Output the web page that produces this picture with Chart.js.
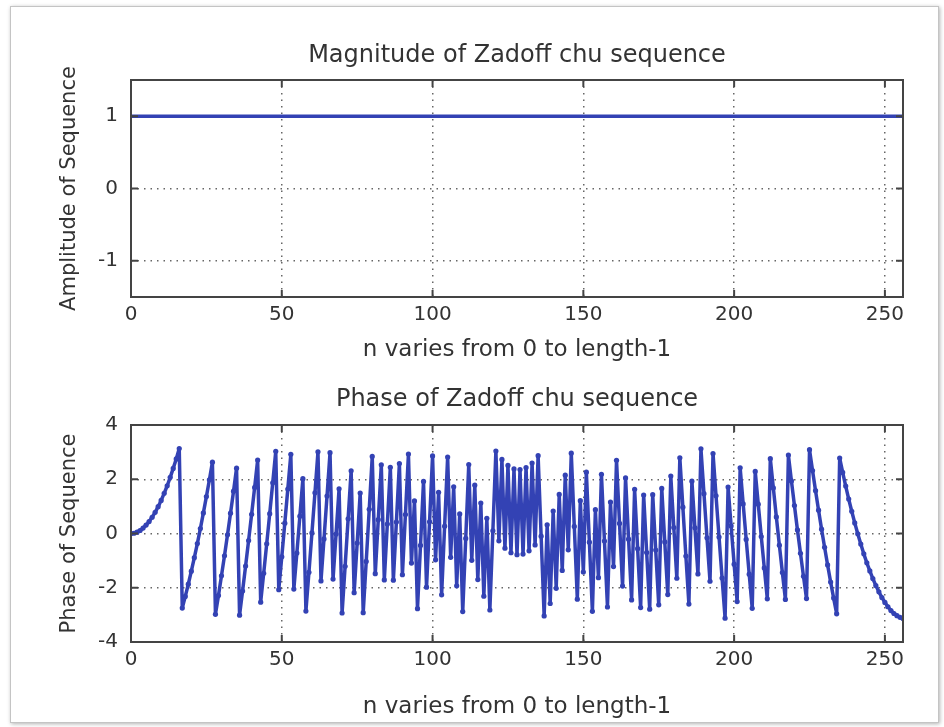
<!DOCTYPE html>
<html lang="en">
<head>
    <meta charset="UTF-8">
    <title>Zadoff chu sequence</title>
    <script src="https://cdn.jsdelivr.net/npm/chart.js"></script>
    <style>
        body { margin: 0; background: #fff; }
        .frame {
            position: absolute; left: 10px; top: 6px; width: 929px; height: 717px;
            box-sizing: border-box; border: 1px solid #c4c4c4;
            box-shadow: 1px 1px 4px rgba(0, 0, 0, 0.3);
        }
        canvas { position: absolute; left: 0; }
    </style>
</head>
<body>
    <div class="frame"></div>
    <canvas id="canvas_magnitude" width="944" height="370" style="top:0"></canvas>
    <canvas id="canvas_phase" width="944" height="357" style="top:370px"></canvas>

<script>
    // n = 0 .. 256 (257 samples)
    const magnitude = [
        1, 1, 1, 1, 1, 1, 1, 1, 1, 1, 1, 1, 1, 1, 1, 1, 1, 1, 1, 1,
        1, 1, 1, 1, 1, 1, 1, 1, 1, 1, 1, 1, 1, 1, 1, 1, 1, 1, 1, 1,
        1, 1, 1, 1, 1, 1, 1, 1, 1, 1, 1, 1, 1, 1, 1, 1, 1, 1, 1, 1,
        1, 1, 1, 1, 1, 1, 1, 1, 1, 1, 1, 1, 1, 1, 1, 1, 1, 1, 1, 1,
        1, 1, 1, 1, 1, 1, 1, 1, 1, 1, 1, 1, 1, 1, 1, 1, 1, 1, 1, 1,
        1, 1, 1, 1, 1, 1, 1, 1, 1, 1, 1, 1, 1, 1, 1, 1, 1, 1, 1, 1,
        1, 1, 1, 1, 1, 1, 1, 1, 1, 1, 1, 1, 1, 1, 1, 1, 1, 1, 1, 1,
        1, 1, 1, 1, 1, 1, 1, 1, 1, 1, 1, 1, 1, 1, 1, 1, 1, 1, 1, 1,
        1, 1, 1, 1, 1, 1, 1, 1, 1, 1, 1, 1, 1, 1, 1, 1, 1, 1, 1, 1,
        1, 1, 1, 1, 1, 1, 1, 1, 1, 1, 1, 1, 1, 1, 1, 1, 1, 1, 1, 1,
        1, 1, 1, 1, 1, 1, 1, 1, 1, 1, 1, 1, 1, 1, 1, 1, 1, 1, 1, 1,
        1, 1, 1, 1, 1, 1, 1, 1, 1, 1, 1, 1, 1, 1, 1, 1, 1, 1, 1, 1,
        1, 1, 1, 1, 1, 1, 1, 1, 1, 1, 1, 1, 1, 1, 1, 1, 1
    ];

    const phase = [
        0, 0.01, 0.05, 0.11, 0.20, 0.31, 0.44, 0.60, 0.78, 0.99,          // 0
        1.22, 1.48, 1.76, 2.07, 2.40, 2.75, 3.13, -2.75, -2.32, -1.87,    // 10
        -1.39, -0.89, -0.37, 0.18, 0.76, 1.36, 1.98, 2.63, -2.98, -2.29,  // 20
        -1.56, -0.82, -0.05, 0.75, 1.56, 2.41, -3.01, -2.12, -1.20, -0.26,// 30
        0.71, 1.70, 2.71, -2.53, -1.47, -0.38, 0.73, 1.87, 3.03, -2.07,   // 40
        -0.86, 0.38, 1.64, 2.92, -2.05, -0.72, 0.64, 2.02, -2.86, -1.43,  // 50
        0.02, 1.50, 3.01, -1.75, -0.20, 1.38, 2.98, -1.68, -0.02, 1.65,   // 60
        -2.93, -1.21, 0.54, 2.31, -2.18, -0.35, 1.49, -2.92, -1.03, 0.89, // 70
        2.84, -1.48, 0.51, 2.53, -1.71, 0.35, 2.44, -1.72, 0.42, 2.58,    // 80
        -1.52, 0.70, 2.93, -1.09, 1.20, -2.77, -0.44, 1.92, -1.98, 0.43,  // 90
        2.86, -0.97, 1.52, -2.26, 0.27, 2.82, -0.88, 1.72, -1.93, 0.72,   // 100
        -2.88, -0.18, 2.54, -0.99, 1.78, -1.70, 1.12, -2.31, 0.56, -2.82, // 110
        0.10, 3.04, -0.27, 2.73, -0.54, 2.51, -0.71, 2.38, -0.78, 2.36,   // 120
        -0.76, 2.43, -0.64, 2.60, -0.42, 2.87, -0.10, -3.04, 0.32, -2.58, // 130
        0.83, -2.02, 1.44, -1.36, 2.15, -0.60, 2.96, 0.26, -2.42, 1.21,   // 140
        -1.42, 2.26, -0.32, -2.87, 0.88, -1.63, 2.18, -0.28, -2.71, 1.16, // 150
        -1.22, 2.70, 0.37, -1.94, 2.05, -0.21, -2.45, 1.63, -0.56, -2.73, // 160
        1.42, -0.70, -2.79, 1.43, -0.61, -2.63, 1.66, -0.31, -2.25, 2.12, // 170
        0.22, -1.65, 2.79, 0.97, -0.83, -2.60, 1.93, 0.21, -1.49, 3.12,   // 180
        1.47, -0.16, -1.76, 2.95, 1.39, -0.13, -1.64, -3.12, 1.71, 0.28,  // 190
        -1.13, -2.51, 2.42, 1.09, -0.22, -1.50, -2.76, 2.29, 1.08, -0.11, // 200
        -1.27, -2.41, 2.76, 1.68, 0.61, -0.43, -1.44, -2.43, 2.89, 1.94,  // 210
        1.03, 0.13, -0.73, -1.58, -2.40, 3.09, 2.32, 1.58, 0.86, 0.16,    // 220
        -0.51, -1.16, -1.79, -2.38, -2.96, 2.78, 2.25, 1.75, 1.27, 0.82,  // 230
        0.39, -0.01, -0.39, -0.75, -1.08, -1.38, -1.66, -1.92, -2.15, -2.36, // 240
        -2.54, -2.70, -2.84, -2.95, -3.03, -3.09, -3.13                   // 250
    ];

    const xTicks = [0, 50, 100, 150, 200, 250];
    const magTicks = [-1, 0, 1];
    const phaseTicks = [-4, -2, 0, 2, 4];

    const corAzul = '#3342b4';
    const corTexto = '#333';
    const corEixo = '#444';

    Chart.defaults.font.family = "'DejaVu Sans', sans-serif";
    Chart.defaults.color = corTexto;

    // caixa do eixo + marcas de tick para dentro (estilo matlab)
    const caixaPlugin = {
        id: 'caixa',
        afterDatasetsDraw(chart) {
            const { ctx, chartArea: a, scales } = chart;
            ctx.save();
            ctx.strokeStyle = corEixo;
            ctx.lineWidth = 2;
            ctx.beginPath();
            scales.x.ticks.forEach(t => {
                const px = scales.x.getPixelForValue(t.value);
                ctx.moveTo(px, a.bottom); ctx.lineTo(px, a.bottom - 7);
                ctx.moveTo(px, a.top); ctx.lineTo(px, a.top + 7);
            });
            scales.y.ticks.forEach(t => {
                const py = scales.y.getPixelForValue(t.value);
                ctx.moveTo(a.left, py); ctx.lineTo(a.left + 7, py);
                ctx.moveTo(a.right, py); ctx.lineTo(a.right - 7, py);
            });
            ctx.stroke();
            ctx.strokeRect(a.left, a.top, a.right - a.left, a.bottom - a.top);
            ctx.restore();
        }
    };

    function montarOpcoes(titulo, tituloY, yMin, yMax, yTicks, titPad, alturaX) {
        return {
            responsive: false,
            animation: false,
            layout: { padding: { left: 0, right: 41, top: 0, bottom: 0 } },
            plugins: {
                legend: { display: false },
                tooltip: { enabled: false },
                title: {
                    display: true,
                    fullSize: false,
                    text: titulo,
                    color: corTexto,
                    font: { size: 24, weight: 'normal' },
                    padding: titPad
                }
            },
            scales: {
                x: {
                    type: 'linear',
                    min: 0,
                    max: 256,
                    afterBuildTicks: s => { s.ticks = xTicks.map(v => ({ value: v })); },
                    afterFit: s => { s.height = alturaX; },
                    ticks: { font: { size: 20 }, padding: 6, maxRotation: 0, autoSkip: false },
                    grid: { color: '#666', lineWidth: 1.5, drawTicks: false },
                    border: { display: false, dash: [1.5, 5] },
                    title: {
                        display: true,
                        text: 'n varies from 0 to length-1',
                        font: { size: 23 },
                        padding: { top: 0, bottom: 6.2 }
                    }
                },
                y: {
                    min: yMin,
                    max: yMax,
                    afterBuildTicks: s => { s.ticks = yTicks.map(v => ({ value: v })); },
                    afterFit: s => { s.width = 131; },
                    ticks: { font: { size: 20 }, padding: 13 },
                    grid: { color: '#666', lineWidth: 1.5, drawTicks: false },
                    border: { display: false, dash: [1.5, 5] },
                    title: {
                        display: true,
                        text: tituloY,
                        font: { size: 21 },
                        padding: { top: 57.4, bottom: 0 }
                    }
                }
            }
        };
    }

    new Chart(document.getElementById('canvas_magnitude'), {
        type: 'line',
        data: {
            datasets: [{
                data: magnitude.map((v, i) => ({ x: i, y: v })),
                borderColor: corAzul,
                borderWidth: 3.5,
                pointRadius: 0,
                tension: 0
            }]
        },
        options: montarOpcoes('Magnitude of Zadoff chu sequence', 'Amplitude of Sequence',
            -1.5, 1.5, magTicks, { top: 41.6, bottom: 9.6 }, 73),
        plugins: [caixaPlugin]
    });

    new Chart(document.getElementById('canvas_phase'), {
        type: 'line',
        data: {
            datasets: [{
                data: phase.map((v, i) => ({ x: i, y: v })),
                borderColor: corAzul,
                backgroundColor: corAzul,
                borderWidth: 3.5,
                borderJoinStyle: 'round',
                pointRadius: 2.6,
                pointBorderWidth: 0,
                pointBackgroundColor: corAzul,
                tension: 0
            }]
        },
        options: montarOpcoes('Phase of Zadoff chu sequence', 'Phase of Sequence',
            -4, 4, phaseTicks, { top: 15.6, bottom: 10.6 }, 85),
        plugins: [caixaPlugin]
    });
</script>
</body>
</html>
